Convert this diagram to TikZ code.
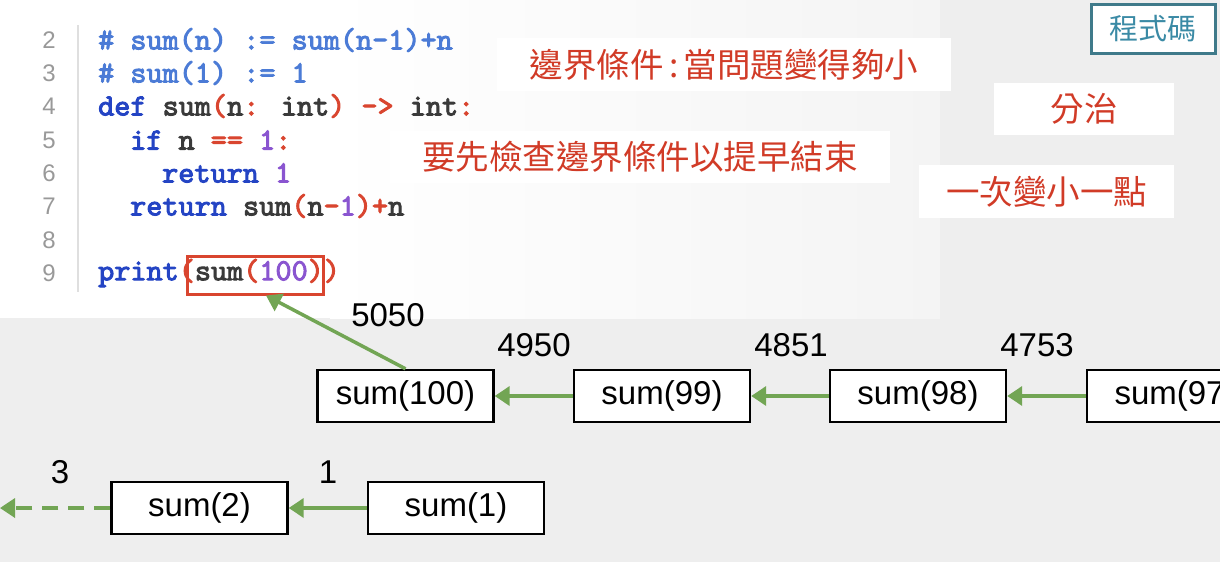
\documentclass[tikz,border=0pt]{standalone}
\usepackage{fontspec}
\usetikzlibrary{arrows.meta}
\newfontfamily\cjkf{Noto Sans CJK TC}
\newfontfamily\arialf{Liberation Sans}
\newfontfamily\codef{lmmono10-regular.otf}[FakeBold=3]
\definecolor{cmt}{HTML}{4B7BD6}
\definecolor{kwd}{HTML}{2444C4}
\definecolor{txtc}{HTML}{3A3A3A}
\definecolor{opc}{HTML}{D9452F}
\definecolor{numc}{HTML}{8A55D0}
\definecolor{lnc}{HTML}{999999}
\definecolor{redl}{HTML}{D13B27}
\definecolor{grn}{HTML}{72A554}
\definecolor{teal1}{HTML}{3F7A8A}
\definecolor{teal2}{HTML}{3A8AA5}
\definecolor{bgc}{HTML}{EEEEEE}
\definecolor{panelr}{HTML}{F4F4F4}
\newcommand\cdk[1]{\textcolor{kwd}{#1}}
\newcommand\cdt[1]{\textcolor{txtc}{#1}}
\newcommand\cdo[1]{\textcolor{opc}{#1}}
\newcommand\cdn[1]{\textcolor{numc}{#1}}
\tikzset{
  lnum/.style={anchor=east, inner sep=0pt, font=\arialf\fontsize{24}{24}\selectfont, text=lnc},
  codeline/.style={anchor=west, inner sep=0pt, font=\codef\fontsize{30.7}{31}\selectfont},
  whitebox/.style={fill=white, draw=none, inner sep=0pt, text=redl, font=\cjkf\fontsize{33.5}{34}\selectfont},
  chainbox/.style={draw=black, fill=white, line width=2.4pt, minimum width=176pt, minimum height=52pt, inner sep=0pt, font=\arialf\fontsize{33}{33}\selectfont},
  vlabel/.style={inner sep=0pt, font=\arialf\fontsize{33}{33}\selectfont},
  garrow/.style={draw=grn, line width=3.5pt, -{Triangle[length=15pt,width=19pt]}, color=grn},
}
\begin{document}
\begin{tikzpicture}[x=1pt,y=-1pt]
\useasboundingbox (0,0) rectangle (1220,562);
\clip (0,0) rectangle (1220,562);
\fill[bgc] (0,0) rectangle (1220,562);
% code panel
\fill[white] (0,0) rectangle (940,318);
\shade[left color=white, right color=panelr] (330,0) rectangle (940,318);
\draw[gray!25, line width=1.2pt] (78,25) -- (78,292);
% line numbers
\node[lnum] (l2) at (56,40) {2};
\node[lnum] (l3) at (56,73) {3};
\node[lnum] (l4) at (56,106) {4};
\node[lnum] (l5) at (56,140) {5};
\node[lnum] (l6) at (56,173) {6};
\node[lnum] (l7) at (56,206) {7};
\node[lnum] (l8) at (56,240) {8};
\node[lnum] (l9) at (56,273) {9};
% code
\node[codeline, text=cmt] (c2) at (98,40) {\# sum(n) := sum(n-1)+n};
\node[codeline, text=cmt] (c3) at (98,73) {\# sum(1) := 1};
\node[codeline] (c4) at (98,106) {\cdk{def} \cdt{sum}\cdo{(}\cdt{n}\cdo{:} \cdt{int}\cdo{)} \cdo{->} \cdt{int}\cdo{:}};
\node[codeline] (c5) at (130,140) {\cdk{if} \cdt{n} \cdo{==} \cdn{1}\cdo{:}};
\node[codeline] (c6) at (162,173) {\cdk{return} \cdn{1}};
\node[codeline] (c7) at (130,206) {\cdk{return} \cdt{sum}\cdo{(}\cdt{n}\cdo{-}\cdn{1}\cdo{)}\cdo{+}\cdt{n}};
\node[codeline] (c9) at (98,273) {\cdk{print}\cdo{(}\cdt{sum}\cdo{(}\cdn{100}\cdo{)}\cdo{)}};
\node[draw=opc, line width=3pt, minimum width=136pt, minimum height=38pt, inner sep=0pt] (call) at (255,275) {};
% white label boxes
\node[whitebox, minimum width=454pt, minimum height=53pt] (b1) at (724,64.5) {邊界條件\,:\,當問題變得夠小};
\node[whitebox, minimum width=500pt, minimum height=52pt] (b2) at (640,157) {要先檢查邊界條件以提早結束};
\node[whitebox, minimum width=180pt, minimum height=52pt] (b3) at (1084,109) {分治};
\node[whitebox, minimum width=255pt, minimum height=53pt] (b4) at (1046.5,191.5) {一次變小一點};
\node[draw=teal1, fill=white, line width=3pt, minimum width=124pt, minimum height=49pt, inner sep=0pt, text=teal2, font=\cjkf\fontsize{29}{29}\selectfont] (code) at (1153,28.5) {程式碼};
% chain
\node[chainbox] (s100) at (405.5,396) {sum(100)};
\node[chainbox] (s99) at (662,396) {sum(99)};
\node[chainbox] (s98) at (918,396) {sum(98)};
\node[chainbox] (s97) at (1175,396) {sum(97)};
\node[chainbox] (s2) at (199.5,508) {sum(2)};
\node[chainbox] (s1) at (456,508) {sum(1)};
\coordinate (lend) at (0,508);
\draw[garrow] (s99.west) -- (s100.east);
\draw[garrow] (s98.west) -- (s99.east);
\draw[garrow] (s97.west) -- (s98.east);
\draw[garrow] (s1.west) -- (s2.east);
\draw[garrow, dash pattern=on 16pt off 10pt] (s2.west) -- (lend);
\draw[garrow] (s100.north) -- ([xshift=11pt]call.south);
% values
\node[vlabel] (v5050) at (388,315) {5050};
\node[vlabel] (v4950) at (534,345) {4950};
\node[vlabel] (v4851) at (791,345) {4851};
\node[vlabel] (v4753) at (1037,345) {4753};
\node[vlabel] (v1) at (328,472) {1};
\node[vlabel] (v3) at (60,472) {3};
\end{tikzpicture}
\end{document}
